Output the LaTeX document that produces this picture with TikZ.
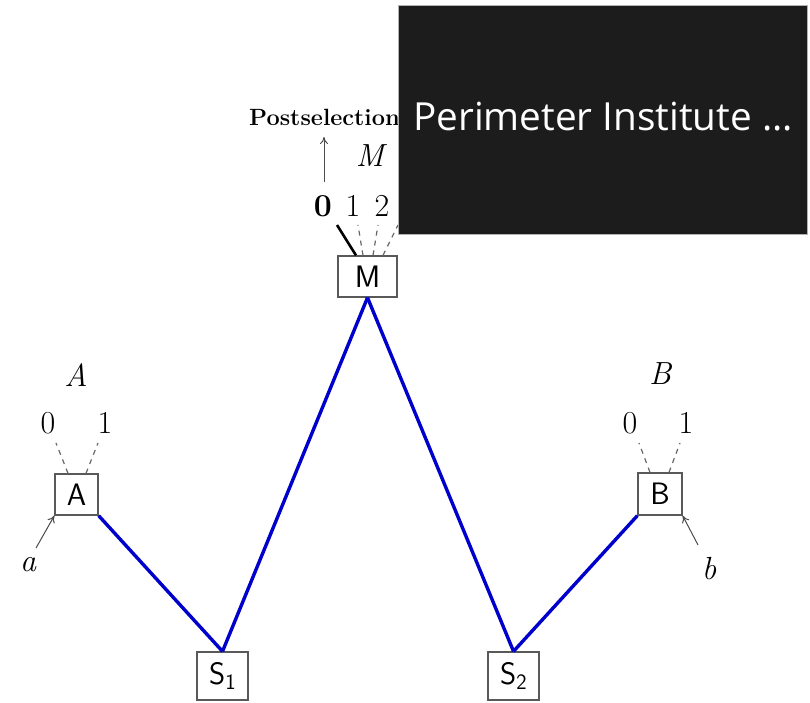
\documentclass[tikz,border=0pt]{standalone}
\usepackage{fontspec}
\newfontfamily\overlayfont{Open Sans}
\usetikzlibrary{arrows.meta}
\newcommand{\subdigit}[1]{\raisebox{-5pt}{\fontsize{22}{24}\selectfont #1}}
\begin{document}
\begin{tikzpicture}[x=1pt,y=-1pt,
  box/.style={draw=black!65,line width=1.3pt,fill=white,inner sep=0pt,font=\fontsize{31}{34}\sffamily},
  wire/.style={draw=blue!80!black,line width=3.4pt},
  fan/.style={draw=black!60,line width=1.2pt,dash pattern=on 5pt off 5pt},
  lbl/.style={font=\fontsize{32}{36}\selectfont,inner sep=0pt},
  ilbl/.style={font=\fontsize{32}{36}\selectfont\itshape,inner sep=0pt},
  thinarrow/.style={draw=black!70,line width=1pt,-{To[length=7pt,width=8pt]}}]
\useasboundingbox (0,0) rectangle (810,702);
\fill[white] (0,0) rectangle (810,702);
% boxes
\node[box,minimum width=59pt,minimum height=41pt] (M) at (367.5,276.5) {M};
\node[box,minimum width=43pt,minimum height=41pt] (A) at (76.5,494.5) {A};
\node[box,minimum width=44pt,minimum height=42pt] (B) at (660,494) {B};
\node[box,minimum width=51pt,minimum height=48pt] (S1) at (222.5,676) {S\subdigit{1}};
\node[box,minimum width=51pt,minimum height=48pt] (S2) at (513.5,676) {S\subdigit{2}};
% blue wires
\draw[wire] (A.south east) -- (S1.north);
\draw[wire] (S1.north) -- (M.south);
\draw[wire] (M.south) -- (S2.north);
\draw[wire] (S2.north) -- (B.south west);
% A outputs
\coordinate (a0) at (56,443);
\coordinate (a1) at (98,443);
\draw[fan] ([xshift=-8.5pt]A.north) -- (a0);
\draw[fan] ([xshift=9.5pt]A.north) -- (a1);
\node[lbl] (A0) at (48,423) {0};
\node[lbl] (A1) at (105,423) {1};
\node[ilbl] (Alab) at (76,375) {A};
\node[ilbl] (ain) at (28,565) {a};
\coordinate (ast) at (36,548);
\draw[thinarrow] (ast) -- (A.south west);
% B outputs
\coordinate (b0) at (639,443);
\coordinate (b1) at (680,443);
\draw[fan] ([xshift=-10pt]B.north) -- (b0);
\draw[fan] ([xshift=9pt]B.north) -- (b1);
\node[lbl] (B0) at (630,423) {0};
\node[lbl] (B1) at (686,423) {1};
\node[ilbl] (Blab) at (660,374) {B};
\node[ilbl] (bin) at (709,569) {b};
\coordinate (bst) at (698,545);
\draw[thinarrow] (bst) -- (B.south east);
% M outputs
\coordinate (m0) at (337,225);
\coordinate (m1) at (358,225);
\coordinate (m2) at (378,225);
\coordinate (m3) at (398,225);
\draw[line width=2.6pt,black] ([xshift=-11.5pt]M.north) -- (m0);
\draw[fan] ([xshift=-4.5pt]M.north) -- (m1);
\draw[fan] ([xshift=5.5pt]M.north) -- (m2);
\draw[fan] ([xshift=15.5pt]M.north) -- (m3);
\node[lbl,font=\fontsize{32}{36}\selectfont\bfseries] (M0) at (323,206) {0};
\node[lbl] (M1) at (353,206) {1};
\node[lbl] (M2) at (382,206) {2};
\node[lbl] (M3) at (412,206) {3};
\node[ilbl] (Mlab) at (370,156) {M};
\coordinate (pst) at (324,182);
\coordinate (pend) at (324,137);
\node[font=\fontsize{23.5}{26}\selectfont\bfseries,inner sep=0pt,anchor=base west] (post) at (249,125) {Postselection};
\draw[thinarrow] (pst) -- (pend);
% overlay
\node[fill=black!89,draw=black!30,line width=0.6pt,minimum width=409pt,minimum height=229pt,inner sep=0pt,anchor=north west] (ov) at (398,5) {};
\node[text=white,font=\overlayfont\fontsize{38.7}{42}\selectfont,inner sep=0pt,anchor=base west] (ovt) at (413,130) {Perimeter Institute ...};
\end{tikzpicture}
\end{document}
